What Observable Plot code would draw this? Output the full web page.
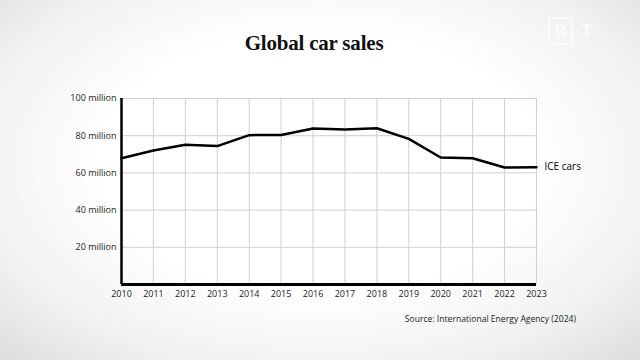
<!DOCTYPE html>
<html>
<head>
<meta charset="utf-8">
<script src="https://cdn.jsdelivr.net/npm/d3@7"></script>
<script src="https://cdn.jsdelivr.net/npm/@observablehq/plot@0.6"></script>
<style>
  html, body { margin: 0; padding: 0; }
  body {
    width: 640px; height: 360px; position: relative; overflow: hidden;
    background: radial-gradient(ellipse 75% 80% at 50% 45%, #ffffff 45%, #f0f0f0 75%, #d9d9d9 100%);
    font-family: "Open Sans", sans-serif;
  }
  #title {
    position: absolute; top: 31px; left: 0; width: 628px; text-align: center;
    font-family: "Liberation Serif", "DejaVu Serif", serif; font-weight: bold;
    font-size: 21px; color: #111; letter-spacing: -0.2px;
  }
  #chart { position: absolute; top: 80px; left: 0; }
  #source {
    position: absolute; top: 313px; right: 64px; font-size: 8.6px; color: #222;
    font-family: "Open Sans", sans-serif;
  }
  #logo {
    position: absolute; top: 17px; left: 548px; font-family: "DejaVu Sans", sans-serif;
    font-weight: bold; font-size: 17px; color: rgba(255,255,255,0.6);
  }
  #logo span.b { display: inline-block; border: 2px solid rgba(255,255,255,0.6); padding: 2px 4px; margin-right: 8px; }
</style>
</head>
<body>
<div id="logo"><span class="b">B</span>T</div>
<div id="title">Global car sales</div>
<div id="chart"></div>
<div id="source">Source: International Energy Agency (2024)</div>
<script>
const years = [2010, 2011, 2012, 2013, 2014, 2015, 2016, 2017, 2018, 2019, 2020, 2021, 2022, 2023];
const iceSales = [67.9, 72.0, 75.1, 74.4, 80.3, 80.4, 83.9, 83.3, 84.0, 78.3, 68.3, 67.9, 62.9, 63.1];
const yTicks = [20, 40, 60, 80, 100];
const seriesLabel = "ICE cars";

const data = years.map((y, i) => ({year: y, value: iceSales[i]}));
const last = data[data.length - 1];

const chart = Plot.plot({
  width: 640,
  height: 250,
  marginTop: 18,
  marginBottom: 46,
  marginLeft: 121,
  marginRight: 104,
  style: { background: "transparent", fontFamily: "'Open Sans', sans-serif", fontSize: "9px", color: "#222" },
  x: { type: "linear", domain: [2010, 2023], ticks: years, tickFormat: "d", label: null },
  y: { domain: [0, 100], ticks: yTicks, label: null, tickFormat: d => `${d} million` },
  marks: [
    Plot.gridX(years, { stroke: "#d0d0d0", strokeOpacity: 1, strokeWidth: 1 }),
    Plot.gridY(yTicks, { stroke: "#d0d0d0", strokeOpacity: 1, strokeWidth: 1 }),
    Plot.axisX(years, { tickSize: 0, tickPadding: 6, tickFormat: "d", label: null }),
    Plot.axisY(yTicks, { tickSize: 0, tickPadding: 5, tickFormat: d => `${d} million`, label: null }),
    Plot.ruleX([2010], { stroke: "#000", strokeWidth: 2.5 }),
    Plot.ruleY([0], { stroke: "#000", strokeWidth: 3 }),
    Plot.line(data, { x: "year", y: "value", stroke: "#000", strokeWidth: 2.5, strokeLinejoin: "round" }),
    Plot.text([last], { x: "year", y: "value", text: () => seriesLabel, dx: 8, textAnchor: "start", fontSize: 10, fill: "#000" })
  ]
});
document.getElementById("chart").appendChild(chart);
</script>
</body>
</html>
